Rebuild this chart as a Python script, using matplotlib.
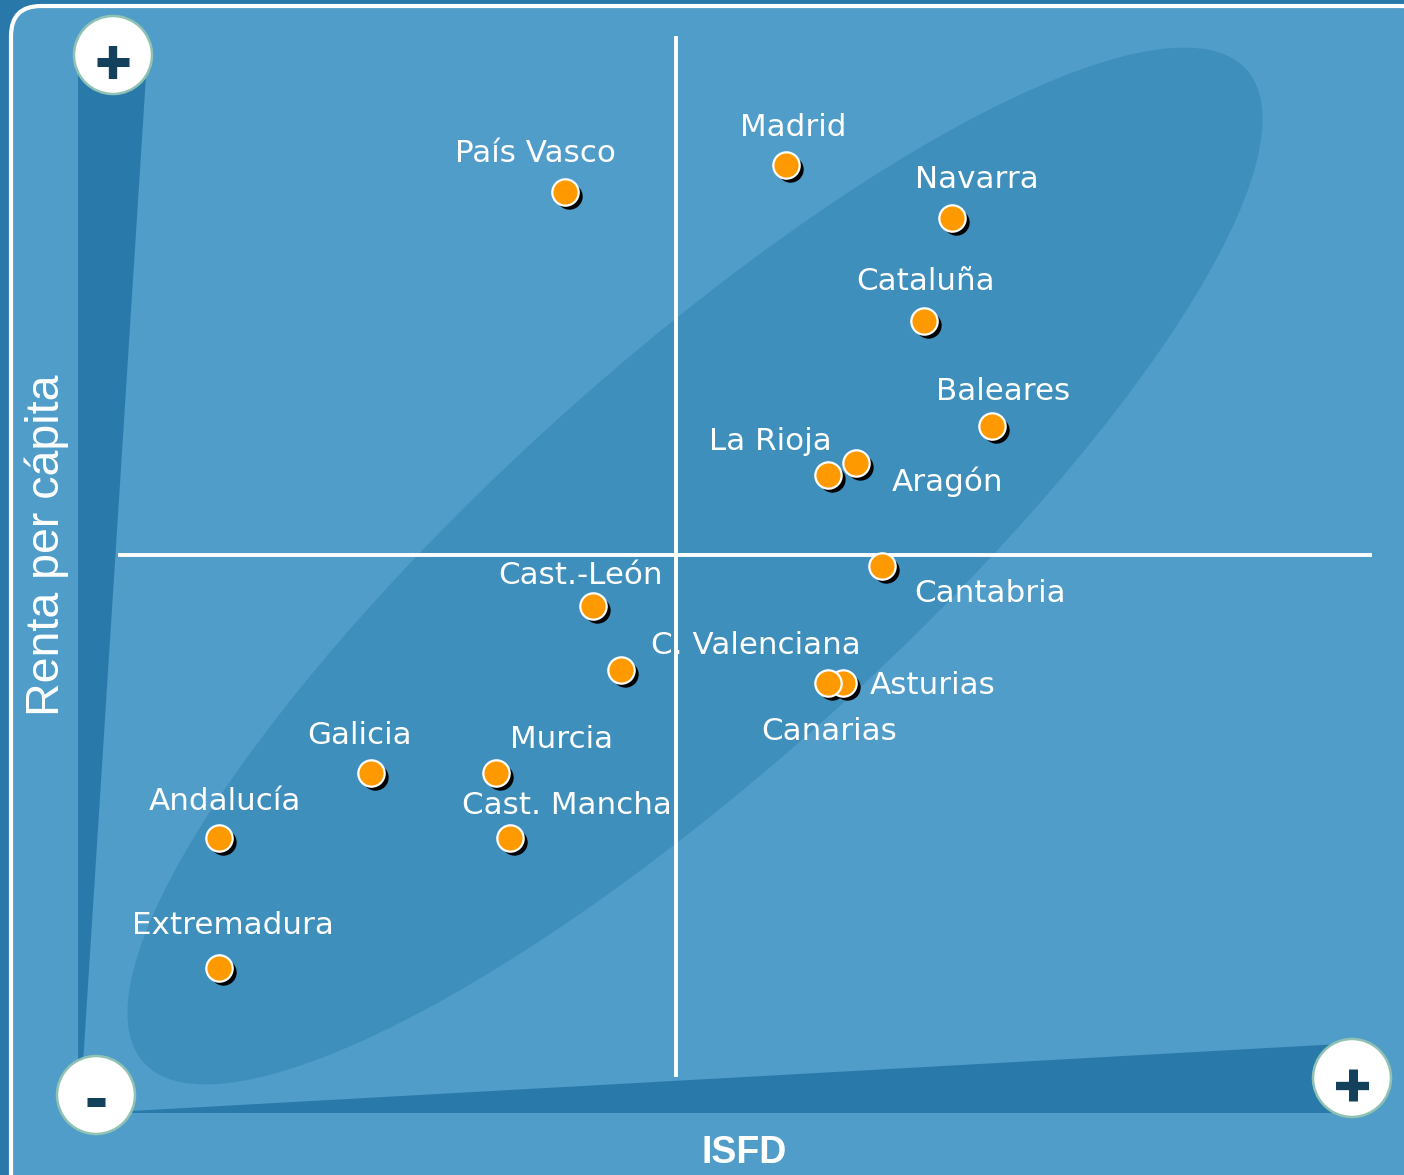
import matplotlib
matplotlib.use("Agg")
import matplotlib.pyplot as plt
from matplotlib.patches import Ellipse, Circle, Polygon, FancyBboxPatch
from matplotlib.transforms import offset_copy

# ISFD (x) and renta per cápita (y), centred on the quadrant crossing
regiones = ["País Vasco", "Madrid", "Navarra", "Cataluña", "Baleares",
            "Aragón", "La Rioja", "Cantabria", "Cast.-León", "C. Valenciana",
            "Asturias", "Canarias", "Galicia", "Murcia", "Andalucía",
            "Cast. Mancha", "Extremadura"]
isfd = [-11.1, 11.0, 27.6, 24.8, 31.6,
        18.0, 15.2, 20.6, -8.3, -5.5,
        16.7, 15.2, -30.5, -18.0, -45.7,
        -16.6, -45.7]
renta = [36.3, 39.0, 33.7, 23.4, 12.9,
         9.2, 8.0, -1.1, -5.1, -11.5,
         -12.8, -12.8, -21.8, -21.8, -28.3,
         -28.3, -41.3]
# label position relative to each point, in pixels
lab_dx = [-30, 7, 25, 2, 11, 92, -58, 108, -13, 135, 90, 1, -11, 66, 6, 57, 14]
lab_dy = [38, 38, 39, 40, 35, -19, 34, -28, 30, 25, -3, -49, 38, 34, 36, 33, 42]

fondo = "#2878aa"
panel = "#519dc9"
banda = "#3f8fbd"
cuña = "#2979ab"
signo = "#13405b"
naranja = "#ff9900"

fig = plt.figure(figsize=(14.04, 11.75), dpi=100, facecolor=fondo)

# background layer in pixel units
bg = fig.add_axes([0, 0, 1, 1])
bg.set_xlim(0, 1404)
bg.set_ylim(1175, 0)
bg.axis("off")
bg.add_patch(FancyBboxPatch((11, 6), 1420, 1200,
                            boxstyle="round,pad=0,rounding_size=30",
                            fc=panel, ec="white", lw=3))
bg.add_patch(Polygon([(78, 60), (147, 60), (81, 1095), (78, 1095)],
                     closed=True, fc=cuña, ec="none"))
bg.add_patch(Polygon([(95, 1113), (1340, 1113), (1340, 1044)],
                     closed=True, fc=cuña, ec="none"))

# data layer
ax = fig.add_axes([0, 0, 1, 1], zorder=2)
ax.patch.set_alpha(0)
ax.set_xlim(-67.6, 72.8)
ax.set_ylim(-62.0, 55.5)
ax.axis("off")

ax.add_patch(Ellipse((1.9, -1.1), 148.4, 40.2, angle=42,
                     fc=banda, ec="none", zorder=1))

ax.axvline(0, ymin=0.085, ymax=0.968, color="white", lw=2.8, zorder=4)
ax.axhline(0, xmin=0.0855, xmax=0.976, color="white", lw=2.8, zorder=4)

sombra = offset_copy(ax.transData, fig=fig, x=4, y=-4, units="dots")
ax.scatter(isfd, renta, s=360, c="black", linewidths=0,
           transform=sombra, zorder=5)
ax.scatter(isfd, renta, s=360, c=naranja, edgecolors="white",
           linewidths=1.6, zorder=6)

for nombre, x, y, dx, dy in zip(regiones, isfd, renta, lab_dx, lab_dy):
    ax.annotate(nombre, (x, y), xytext=(dx, dy), textcoords="offset pixels",
                ha="center", va="center", color="white", fontsize=22.3,
                family="DejaVu Sans", zorder=3)

# +/- badges at the ends of the axes
for cx, cy in [(113, 55), (96, 1095), (1352, 1078)]:
    bg.add_patch(Circle((cx, cy), 39, fc="white", ec="#8fc2b3", lw=1.8,
                        zorder=5))
bg.plot([97, 129], [62, 62], color=signo, lw=6.5, solid_capstyle="butt", zorder=6)
bg.plot([113, 113], [46, 79], color=signo, lw=6, solid_capstyle="butt", zorder=6)
bg.plot([1336, 1369], [1086, 1086], color=signo, lw=6, solid_capstyle="butt", zorder=6)
bg.plot([1352.5, 1352.5], [1069, 1101], color=signo, lw=6.5, solid_capstyle="butt", zorder=6)
bg.plot([87, 105], [1101.5, 1101.5], color=signo, lw=6.5, solid_capstyle="butt", zorder=6)

bg.text(47, 545, "Renta per cápita", rotation=90, ha="center", va="center",
        color="white", fontsize=33.5, family=["Liberation Sans", "DejaVu Sans"])
bg.text(744, 1153, "ISFD", ha="center", va="center", color="white",
        fontsize=27, fontweight="bold",
        family=["Liberation Sans Narrow", "Liberation Sans", "DejaVu Sans"])

fig.savefig("out.png", dpi=100, facecolor=fondo)
